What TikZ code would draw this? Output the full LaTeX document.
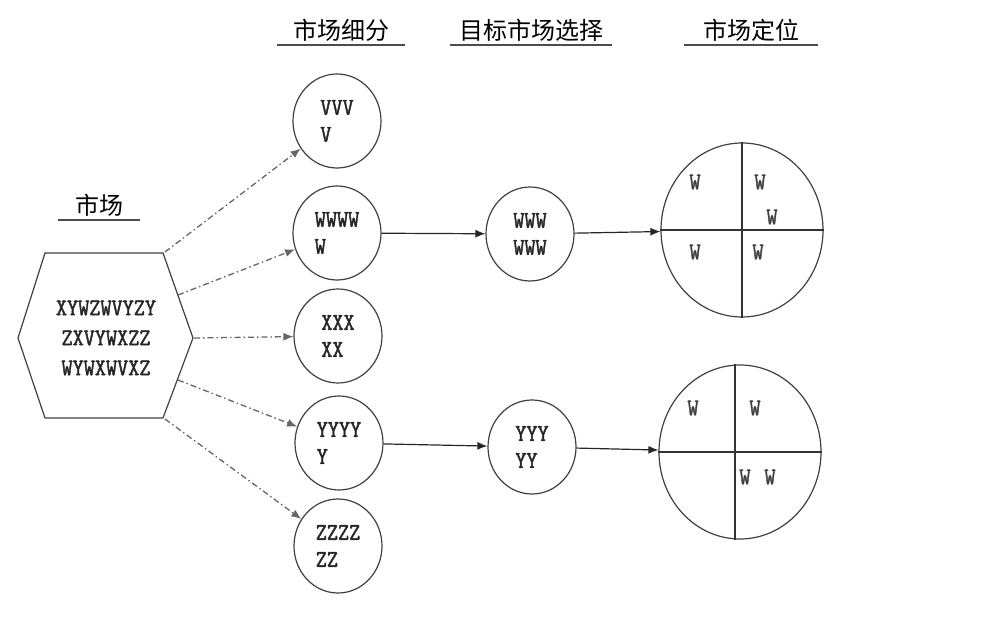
\documentclass[tikz,border=0pt]{standalone}
\usepackage{fontspec}
\newfontfamily\cjk{Noto Sans CJK SC}
\newfontfamily\lettfont[FakeStretch=0.9, FakeBold=1.8]{Latin Modern Mono}
\usetikzlibrary{shapes.geometric, arrows.meta}

\tikzset{
    heading/.style={font=\cjk\fontsize{24}{24}\selectfont, inner sep=0pt, minimum height=30pt},
    underline/.style={line width=2pt, black!70},
    segment/.style={ellipse, draw=black!75, line width=1.2pt, minimum width=88pt, minimum height=94pt, inner sep=0pt, align=left, text=black!85, font=\lettfont\fontsize{24}{27}\selectfont},
    posbox/.style={ellipse, draw=black!75, line width=1.2pt, minimum width=162pt, minimum height=174pt, inner sep=0pt},
    letter/.style={text=black!75, font=\lettfont\fontsize{24}{27}\selectfont},
    dotarrow/.style={-{Latex[length=10pt,width=8pt]}, black!60, line width=1.3pt, dash pattern=on 6pt off 3pt on 1.5pt off 3pt},
    solidarrow/.style={-{Latex[length=10pt,width=8pt]}, black!85, line width=1.2pt},
}

\begin{document}
\begin{tikzpicture}[x=1pt, y=-1pt]
    % Page size
    \useasboundingbox (0,0) rectangle (985,617);

    % Column headings with their rules
    \node[heading, minimum width=82pt] (hmkt) at (99,205) {市场};
    \node[heading, minimum width=128pt] (hseg) at (341,30) {市场细分};
    \node[heading, minimum width=162pt] (htgt) at (531,30) {目标市场选择};
    \node[heading, minimum width=134pt] (hpos) at (751,30) {市场定位};
    \draw[underline] (hmkt.south west) -- (hmkt.south east);
    \draw[underline] (hseg.south west) -- (hseg.south east);
    \draw[underline] (htgt.south west) -- (htgt.south east);
    \draw[underline] (hpos.south west) -- (hpos.south east);

    % Market hexagon
    \coordinate (hexW) at (18,338);
    \coordinate (hexNW) at (45,253);
    \coordinate (hexNE) at (163,253);
    \coordinate (hexE) at (193,338);
    \coordinate (hexSE) at (163,418);
    \coordinate (hexSW) at (45,418);
    \draw[black!75, line width=1.2pt] (hexW) -- (hexNW) -- (hexNE) -- (hexE) -- (hexSE) -- (hexSW) -- cycle;
    \node[align=center, text=black!85, font=\lettfont\fontsize{24}{30}\selectfont] (mkt) at (106,338) {XYWZWVYZY\\ZXVYWXZZ\\WYWXWVXZ};

    % Exit points on the hexagon
    \coordinate (out1) at (165,252);
    \coordinate (out2) at (178,295);
    \coordinate (out3) at (194,338);
    \coordinate (out4) at (178,380);
    \coordinate (out5) at (165,419);

    % Segments
    \node[segment] (seg1) at (337,121) {VVV\\V};
    \node[segment] (seg2) at (337,233) {WWWW\\W};
    \node[segment] (seg3) at (338,336) {XXX\\XX};
    \node[segment] (seg4) at (339,443) {YYYY\\Y};
    \node[segment] (seg5) at (338,546) {ZZZZ\\ZZ};

    % Target markets
    \node[segment] (tgt1) at (530,234) {WWW\\WWW};
    \node[segment] (tgt2) at (532,447) {YYY\\YY};

    % Positioning circles
    \node[posbox] (pos1) at (742,230) {};
    \node[posbox] (pos2) at (740,452) {};
    \draw[black!80, line width=1.2pt] (pos1.north) -- (pos1.south);
    \draw[black!80, line width=1.2pt] (pos1.west) -- (pos1.east);
    \draw[black!80, line width=1.2pt] ([xshift=-5pt]pos2.north) -- ([xshift=-5pt]pos2.south);
    \draw[black!80, line width=1.2pt] (pos2.west) -- (pos2.east);

    % Letters in the quadrants
    \node[letter] (q1a) at (695,182) {W};
    \node[letter] (q1b) at (760,182) {W};
    \node[letter] (q1c) at (772,217) {W};
    \node[letter] (q1d) at (695,252) {W};
    \node[letter] (q1e) at (758,252) {W};
    \node[letter] (q2a) at (693,408) {W};
    \node[letter] (q2b) at (755,408) {W};
    \node[letter] (q2c) at (745,477) {W};
    \node[letter] (q2d) at (770,477) {W};

    % Segmentation arrows
    \draw[dotarrow] (out1) -- (seg1);
    \draw[dotarrow] (out2) -- (seg2);
    \draw[dotarrow] (out3) -- (seg3);
    \draw[dotarrow] (out4) -- (seg4);
    \draw[dotarrow] (out5) -- (seg5);

    % Targeting and positioning arrows
    \draw[solidarrow] (seg2) -- (tgt1);
    \draw[solidarrow] (tgt1) -- (pos1);
    \draw[solidarrow] (seg4) -- (tgt2);
    \draw[solidarrow] (tgt2) -- (pos2);
\end{tikzpicture}
\end{document}
